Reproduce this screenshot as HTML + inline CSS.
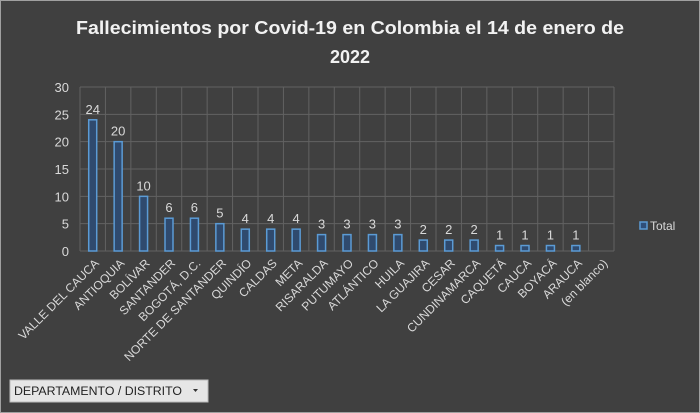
<!DOCTYPE html>
<html><head><meta charset="utf-8"><style>
body{margin:0;background:#404040;}
svg{display:block;font-family:"Liberation Sans",sans-serif;}
</style></head><body>
<svg id="chart" width="700" height="413">
<rect x="0" y="0" width="700" height="413" fill="#404040" stroke="#a0a0a0" stroke-width="2"/>
<text x="350" y="34" text-anchor="middle" fill="#f2f2f2" font-size="18" font-weight="bold" textLength="548" lengthAdjust="spacingAndGlyphs">Fallecimientos por Covid-19 en Colombia el 14 de enero de</text>
<text x="350" y="63" text-anchor="middle" fill="#f2f2f2" font-size="18" font-weight="bold">2022</text>
<g id="grid"></g><g id="bars"></g><g id="labels"></g>
<g>
<rect x="640" y="222" width="7" height="7" fill="#2f4f7a" stroke="#5b9bd5" stroke-width="1.5"/>
<text x="650" y="230" fill="#d9d9d9" font-size="12">Total</text>
</g>
<g>
<rect x="10" y="380" width="198" height="22" fill="#e6e6e6" stroke="#bbb"/>
<text x="14" y="395" fill="#222" font-size="11.5" textLength="168" lengthAdjust="spacingAndGlyphs">DEPARTAMENTO / DISTRITO</text>
<path d="M193 389 l5 0 l-2.5 3z" fill="#333"/>
</g>
</svg>
<script>
const categories=["VALLE DEL CAUCA","ANTIOQUIA","BOLÍVAR","SANTANDER","BOGOTÁ, D.C.","NORTE DE SANTANDER","QUINDÍO","CALDAS","META","RISARALDA","PUTUMAYO","ATLÁNTICO","HUILA","LA GUAJIRA","CESAR","CUNDINAMARCA","CAQUETÁ","CAUCA","BOYACÁ","ARAUCA","(en blanco)"];
const values=[24,20,10,6,6,5,4,4,4,3,3,3,3,2,2,2,1,1,1,1,null];
const yTicks=[0,5,10,15,20,25,30];
const NS="http://www.w3.org/2000/svg";
const L=80,R=614,T=87,B=251,yMax=30;
const bw=(R-L)/categories.length;
const x=i=>L+bw*i;
const y=v=>B-(v/yMax)*(B-T);
const grid=document.getElementById('grid'),bars=document.getElementById('bars'),labels=document.getElementById('labels');
function mk(tag,attrs,parent){const e=document.createElementNS(NS,tag);for(const k in attrs)e.setAttribute(k,attrs[k]);parent.appendChild(e);return e;}
yTicks.forEach(t=>{
  const ln=mk('line',{x1:L,x2:R,y1:y(t),y2:y(t),stroke:'#626262','stroke-width':1},grid);
  
  
  const tx=mk('text',{x:L-11,y:y(t)+5,'text-anchor':'end',fill:'#d9d9d9','font-size':13},labels);
  tx.textContent=t;
  
  
});
for(let i=0;i<=categories.length;i++){
  const ln=mk('line',{x1:x(i),x2:x(i),y1:T,y2:B,stroke:'#626262','stroke-width':1},grid);
  
  
}
categories.forEach((c,i)=>{
  const cx=x(i)+bw/2;
  const v=values[i];
  if(v!=null){
    const r=mk('rect',{x:cx-4,y:y(v),width:8,height:B-y(v),fill:'#2f4a6e',stroke:'#5b9bd5','stroke-width':1.5},bars);
    
    
    const t=mk('text',{x:cx,y:y(v)-6,'text-anchor':'middle',fill:'#d9d9d9','font-size':13},labels);
    t.textContent=v;
    
    
  }
  const lx=cx+7,ly=264;
  const t=mk('text',{x:lx,y:ly,'text-anchor':'end',fill:'#d9d9d9','font-size':12,transform:`rotate(-45 ${lx} ${ly})`},labels);
  t.textContent=c;
  
  
});
</script>
</body></html>
